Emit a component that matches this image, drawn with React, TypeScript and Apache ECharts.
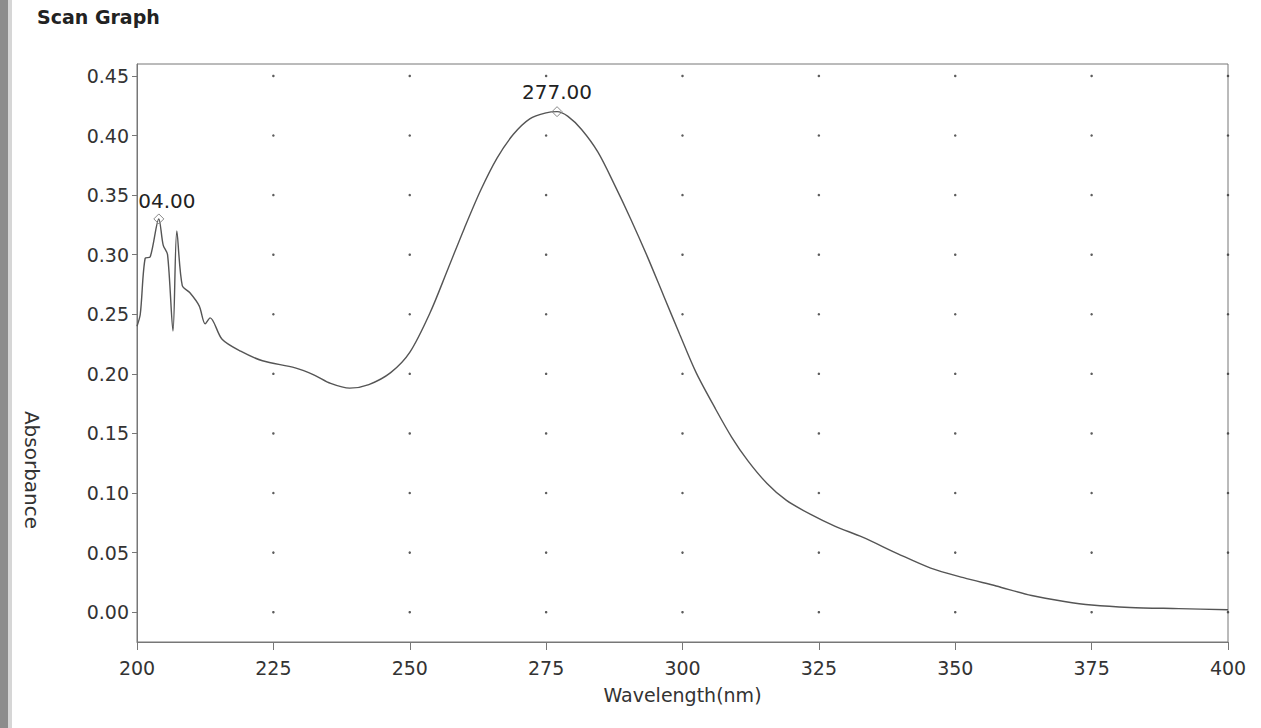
import React, { useEffect, useRef } from "react";
import * as echarts from "echarts";

const wavelengths = [
  200, 200.6, 201.5, 202.4, 204, 204.8, 205.6, 206.6, 207.3, 208.3, 209.7, 211.4, 212.5, 213.4,
  215.6, 219, 223, 229, 232.5, 235.5, 239, 242.5, 246.5, 250, 253.7, 257, 260, 263, 266,
  269, 272, 275, 277, 279, 281.5, 284.5, 287.5, 290.5, 293.5, 296.5, 299.5, 302.5, 306, 309, 312,
  315.5, 319, 323.5, 328, 333, 339.5, 345.5, 351.5, 357.5, 364, 370, 375, 382, 391, 400,
];
const absorbance = [
  0.24, 0.25, 0.297, 0.298, 0.33, 0.308, 0.3, 0.236, 0.32, 0.274, 0.268, 0.257, 0.242, 0.247,
  0.229, 0.219, 0.211, 0.205, 0.199, 0.192, 0.188, 0.191, 0.201, 0.218, 0.251, 0.288, 0.322,
  0.354, 0.381, 0.401, 0.414, 0.419, 0.42, 0.416, 0.405, 0.386, 0.359, 0.33, 0.299, 0.266, 0.233,
  0.201, 0.171, 0.147, 0.127, 0.108, 0.094, 0.082, 0.072, 0.063, 0.049, 0.037, 0.029, 0.022, 0.014,
  0.009, 0.006, 0.004, 0.003, 0.002,
];
const peakWavelengths = [204, 277];
const peakValues = [0.33, 0.42];
const peakLabels = ["04.00", "277.00"];

const xTicks = [200, 225, 250, 275, 300, 325, 350, 375, 400];
const yTicks = [0, 0.05, 0.1, 0.15, 0.2, 0.25, 0.3, 0.35, 0.4, 0.45];
const dotColumns = [225, 250, 275, 300, 325, 350, 375, 400];

const FONT = "DejaVu Sans, Verdana, sans-serif";

export default function App() {
  const ref = useRef<HTMLDivElement>(null);
  useEffect(() => {
    document.body.style.margin = "0";
    const chart = echarts.init(ref.current!, null, { renderer: "svg" });
    const lineData = wavelengths.map((w, i) => [w, absorbance[i]]);
    const dots: number[][] = [];
    dotColumns.forEach((x) => yTicks.forEach((y) => dots.push([x, y])));
    chart.setOption({
      animation: false,
      backgroundColor: "#ffffff",
      textStyle: { fontFamily: FONT },
      grid: {
        left: 137,
        right: 33,
        top: 64,
        bottom: 86,
        show: true,
        borderColor: "#777",
        borderWidth: 1,
        backgroundColor: "transparent",
      },
      xAxis: {
        type: "value",
        min: 200,
        max: 400,
        interval: 25,
        name: "Wavelength(nm)",
        nameLocation: "middle",
        nameGap: 43,
        nameTextStyle: { fontSize: 19, color: "#333", fontFamily: FONT },
        axisLine: { show: true, onZero: false, lineStyle: { color: "#777" } },
        axisTick: { show: true, length: 8, customValues: xTicks, lineStyle: { color: "#777" } },
        axisLabel: { fontSize: 19, color: "#333", margin: 16, fontFamily: FONT, customValues: xTicks },
        splitLine: { show: false },
      },
      yAxis: {
        type: "value",
        min: -0.025,
        max: 0.46,
        axisLine: { show: true, onZero: false, lineStyle: { color: "#777" } },
        axisTick: { show: true, length: 5, customValues: yTicks, lineStyle: { color: "#777" } },
        axisLabel: {
          fontSize: 19,
          color: "#333",
          margin: 8,
          fontFamily: FONT,
          customValues: yTicks,
          formatter: (v: number) => v.toFixed(2),
        },
        splitLine: { show: false },
      },
      graphic: [
        { type: "rect", shape: { x: 0, y: 0, width: 8, height: 728 }, style: { fill: "#8c8c8c" } },
        { type: "rect", shape: { x: 8, y: 0, width: 4, height: 728 }, style: { fill: "#d6d6d6" } },
        {
          type: "text",
          left: 37,
          top: 7,
          style: { text: "Scan Graph", font: `bold 19px ${FONT}`, fill: "#222" },
        },
        {
          type: "text",
          x: 32,
          y: 470,
          rotation: -Math.PI / 2,
          style: {
            text: "Absorbance",
            font: `20px ${FONT}`,
            fill: "#333",
            textAlign: "center",
            textVerticalAlign: "middle",
          },
        },
      ],
      series: [
        {
          type: "scatter",
          data: dots,
          symbol: "circle",
          symbolSize: 2.5,
          itemStyle: { color: "#333" },
          silent: true,
          z: 1,
        },
        {
          type: "line",
          data: lineData,
          showSymbol: false,
          smooth: 0.3,
          lineStyle: { color: "#555", width: 1.4 },
          z: 3,
          markPoint: {
            symbol: "diamond",
            symbolSize: [10, 10],
            itemStyle: { color: "rgba(255,255,255,0)", borderColor: "#888", borderWidth: 1 },
            label: {
              show: true,
              position: "top",
              distance: 4,
              fontSize: 20,
              color: "#222",
              fontFamily: FONT,
              formatter: (p: any) => p.name,
            },
            data: peakWavelengths.map((w, i) => ({
              name: peakLabels[i],
              coord: [w, peakValues[i]],
              label: i === 0 ? { offset: [8, 2] } : {},
            })),
          },
        },
      ],
    });
    return () => chart.dispose();
  }, []);
  return <div ref={ref} style={{ width: 1261, height: 728 }} />;
}
